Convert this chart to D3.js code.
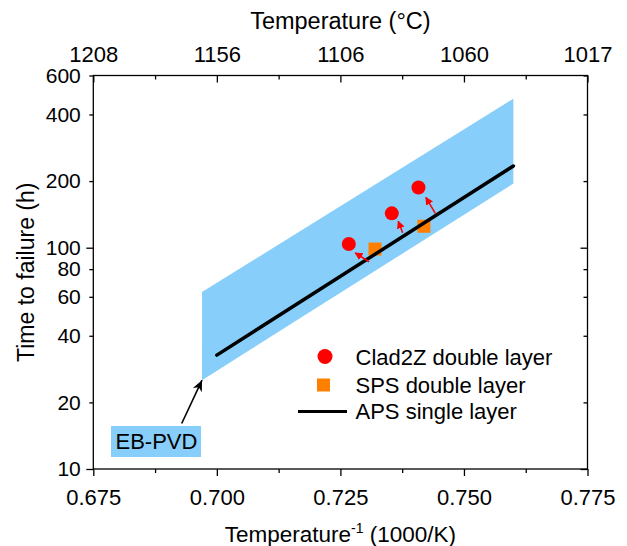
<!DOCTYPE html>
<html>
<head>
<meta charset="UTF-8">
<script src="https://d3js.org/d3.v7.min.js"></script>
<style>
  body{ margin:0; background:#fff; }
  text{ font-family: Arial, "Liberation Sans", sans-serif; fill:#000; }
</style>
</head>
<body>
<div id="chart"></div>
<script>
// axis ticks
var xTicks = [0.675, 0.700, 0.725, 0.750, 0.775];
var xMinor = [0.6875, 0.7125, 0.7375, 0.7625];
var topLabels = ["1208", "1156", "1106", "1060", "1017"];
var yTicks = [10, 20, 40, 60, 80, 100, 200, 400, 600];

// EB-PVD band corners
var bandX = [0.697, 0.760];
var bandLow = [25.2, 195];
var bandHigh = [63, 471];

// APS single layer fit
var apsX = [0.700, 0.760];
var apsY = [32.7, 234];

// Clad2Z double layer
var cladX = [0.7267, 0.7354, 0.7408];
var cladY = [104, 143, 187];

// SPS double layer
var spsX = [0.7320, 0.7419];
var spsY = [98.6, 125];

// red arrows, from the APS line up to the Clad2Z points
var arrFromX = [0.7308, 0.7376, 0.7442];
var arrFromY = [86.4, 116.8, 142.9];
var arrToX = [0.7280, 0.7367, 0.7423];
var arrToY = [94.8, 131.8, 168.7];

var W = 627, H = 546;
var l = 93.3, r = 587.5, t = 75.5, b = 469;

var svg = d3.select("#chart").append("svg")
  .attr("width", W).attr("height", H);

var defs = svg.append("defs");
defs.append("marker").attr("id", "redhead")
  .attr("viewBox", "0 0 10 10").attr("refX", 9).attr("refY", 5)
  .attr("markerWidth", 8).attr("markerHeight", 8).attr("markerUnits", "userSpaceOnUse")
  .attr("orient", "auto")
  .append("path").attr("d", "M0,0 L10,5 L0,10 Z").attr("fill", "#ff0000");
defs.append("marker").attr("id", "blackhead")
  .attr("viewBox", "0 0 10 10").attr("refX", 10).attr("refY", 5)
  .attr("markerWidth", 11).attr("markerHeight", 11).attr("markerUnits", "userSpaceOnUse")
  .attr("orient", "auto")
  .append("path").attr("d", "M0,0.5 L10,5 L0,9.5 L3,5 Z").attr("fill", "#000");

var x = d3.scaleLinear().domain([0.675, 0.775]).range([l, r]);
var y = d3.scaleLog().domain([10, 600]).range([b, t]);

// band
var band = [[bandX[0], bandLow[0]], [bandX[1], bandLow[1]], [bandX[1], bandHigh[1]], [bandX[0], bandHigh[0]]];
svg.append("path")
  .attr("d", d3.line().x(function(d){ return x(d[0]); }).y(function(d){ return y(d[1]); })(band) + "Z")
  .attr("fill", "#87cefa");

// SPS squares
var sq = 13;
svg.selectAll("rect.sps").data(spsX).enter().append("rect")
  .attr("class", "sps")
  .attr("x", function(d){ return x(d) - sq/2; })
  .attr("y", function(d, i){ return y(spsY[i]) - sq/2; })
  .attr("width", sq).attr("height", sq)
  .attr("fill", "#ff8000");

// APS line
svg.append("line")
  .attr("x1", x(apsX[0])).attr("y1", y(apsY[0]))
  .attr("x2", x(apsX[1])).attr("y2", y(apsY[1]))
  .attr("stroke", "#000").attr("stroke-width", 3.5).attr("stroke-linecap", "round");

// red arrows
svg.selectAll("line.arr").data(arrFromX).enter().append("line")
  .attr("class", "arr")
  .attr("x1", function(d){ return x(d); })
  .attr("y1", function(d, i){ return y(arrFromY[i]); })
  .attr("x2", function(d, i){ return x(arrToX[i]); })
  .attr("y2", function(d, i){ return y(arrToY[i]); })
  .attr("stroke", "#ff0000").attr("stroke-width", 1.5)
  .attr("marker-end", "url(#redhead)");

// Clad2Z circles
svg.selectAll("circle.clad").data(cladX).enter().append("circle")
  .attr("class", "clad")
  .attr("cx", function(d){ return x(d); })
  .attr("cy", function(d, i){ return y(cladY[i]); })
  .attr("r", 7)
  .attr("fill", "#ff0000");

// axes
var xb = svg.append("g").attr("transform", "translate(0," + b + ")")
  .call(d3.axisBottom(x).tickValues(xTicks).tickFormat(d3.format(".3f")).tickSize(7).tickPadding(13.5));
svg.append("g").attr("transform", "translate(0," + b + ")")
  .call(d3.axisBottom(x).tickValues(xMinor).tickFormat("").tickSize(4));
var xt = svg.append("g").attr("transform", "translate(0," + t + ")")
  .call(d3.axisTop(x).tickValues(xTicks).tickFormat(function(d, i){ return topLabels[i]; }).tickSize(-7).tickPadding(13.5));
svg.append("g").attr("transform", "translate(0," + t + ")")
  .call(d3.axisTop(x).tickValues(xMinor).tickFormat("").tickSize(-4));
var yl = svg.append("g").attr("transform", "translate(" + l + ",0)")
  .call(d3.axisLeft(y).tickValues(yTicks).tickFormat(d3.format("d")).tickSize(4).tickPadding(8.5));
var yr = svg.append("g").attr("transform", "translate(" + r + ",0)")
  .call(d3.axisRight(y).tickValues(yTicks).tickFormat("").tickSize(-4));
yl.selectAll(".tick line").filter(function(d){ return d === 10 || d === 100; }).attr("x2", -7);
yr.selectAll(".tick line").filter(function(d){ return d === 10 || d === 100; }).attr("x2", -7);

svg.selectAll(".domain").remove();
svg.selectAll(".tick line").attr("stroke", "#000").attr("stroke-width", 1.3);
svg.selectAll(".tick text").attr("font-size", "22px")
  .attr("font-family", "Arial, 'Liberation Sans', sans-serif").attr("fill", "#000");
yl.selectAll(".tick text").attr("font-size", "21px");

svg.append("rect").attr("x", l).attr("y", t).attr("width", r - l).attr("height", b - t)
  .attr("fill", "none").attr("stroke", "#000").attr("stroke-width", 1.3);

// axis titles
svg.append("text").attr("x", (l + r)/2).attr("y", 28.5).attr("text-anchor", "middle")
  .attr("font-size", "23.5px").text("Temperature (°C)");
var bt = svg.append("text").attr("x", (l + r)/2).attr("y", 542).attr("text-anchor", "middle")
  .attr("font-size", "22.5px");
bt.append("tspan").text("Temperature");
bt.append("tspan").attr("font-size", "14px").attr("dy", -9).text("-1");
bt.append("tspan").attr("dy", 9).text(" (1000/K)");
svg.append("text").attr("transform", "translate(33.5," + (t + b)/2 + ") rotate(-90)")
  .attr("text-anchor", "middle").attr("font-size", "23px").text("Time to failure (h)");

// EB-PVD label and arrow
svg.append("rect").attr("x", 111).attr("y", 426).attr("width", 90).attr("height", 31)
  .attr("fill", "#87cefa");
svg.append("text").attr("x", 115.5).attr("y", 448.5).attr("font-size", "22px").text("EB-PVD");
svg.append("line")
  .attr("x1", 181.7).attr("y1", 423.5)
  .attr("x2", x(bandX[0])).attr("y2", y(bandLow[0]))
  .attr("stroke", "#000").attr("stroke-width", 1.6)
  .attr("marker-end", "url(#blackhead)");

// legend
var lg = svg.append("g");
lg.append("circle").attr("cx", 325).attr("cy", 356.5).attr("r", 7.5).attr("fill", "#ff0000");
lg.append("rect").attr("x", 317).attr("y", 378.5).attr("width", 13).attr("height", 13).attr("fill", "#ff8000");
lg.append("line").attr("x1", 298).attr("x2", 347).attr("y1", 411.5).attr("y2", 411.5)
  .attr("stroke", "#000").attr("stroke-width", 3);
lg.append("text").attr("x", 355.5).attr("y", 365).attr("font-size", "22px").text("Clad2Z double layer");
lg.append("text").attr("x", 355.5).attr("y", 393).attr("font-size", "22px").text("SPS double layer");
lg.append("text").attr("x", 355.5).attr("y", 419).attr("font-size", "22px").text("APS single layer");
</script>
</body>
</html>
